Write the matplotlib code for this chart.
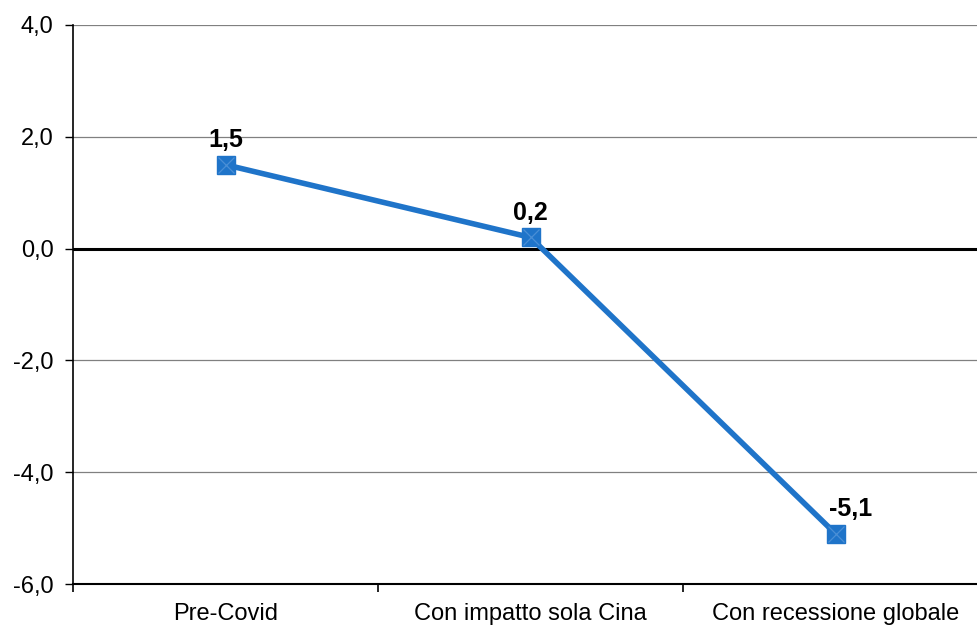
import numpy as np
import matplotlib.pyplot as plt

categories = ['Pre-Covid', 'Con impatto sola Cina', 'Con recessione globale']
values = [1.5, 0.2, -5.1]
value_labels = ['1,5', '0,2', '-5,1']
y_ticks = [-6, -4, -2, 0, 2, 4]
y_tick_labels = ['-6,0', '-4,0', '-2,0', '0,0', '2,0', '4,0']

plt.rcParams['font.family'] = ['Liberation Sans Narrow', 'Liberation Sans', 'DejaVu Sans']

blue = '#1f74c9'

fig = plt.figure(figsize=(9.78, 6.3), dpi=100)
# plot area runs a little past the right edge of the figure
ax = fig.add_axes([73 / 978, 1 - 584 / 630, 915 / 978, (584 - 25) / 630])

x = np.arange(len(categories))
ax.set_xlim(-0.5, len(categories) - 0.5)
ax.set_ylim(-6, 4)

# grid and zero line
for t in y_ticks[1:]:
    ax.axhline(t, color='#808080', lw=0.9, zorder=1)
ax.axhline(0, color='black', lw=2.2, zorder=2)

ax.plot(x, values, color=blue, lw=4, marker='s', markersize=13,
        markerfacecolor=blue, markeredgecolor=blue, zorder=3)
ax.plot(x, values, ls='none', marker='x', markersize=11,
        markeredgecolor='#4a8fd6', markeredgewidth=0.9, zorder=4)

# last label sits a bit to the right so it clears the line
label_dx = [0, 0, 11]
for xi, v, lab, dx in zip(x, values, value_labels, label_dx):
    ax.annotate(lab, (xi, v), xytext=(dx, 9), textcoords='offset points',
                ha='center', va='bottom', fontsize=18, fontweight='bold')

ax.set_yticks(y_ticks)
ax.set_yticklabels(y_tick_labels, fontsize=17)
ax.set_xticks(x)
ax.set_xticklabels(categories, fontsize=17)
ax.set_xticks(np.arange(len(categories) + 1) - 0.5, minor=True)
ax.tick_params(axis='x', which='major', length=0, pad=14)
ax.tick_params(axis='x', which='minor', length=6, width=1.2, direction='out')
ax.tick_params(axis='y', length=6, width=1, pad=8)

for s in ['top', 'right']:
    ax.spines[s].set_visible(False)
ax.spines['left'].set_linewidth(1.2)
ax.spines['bottom'].set_linewidth(1.5)

fig.savefig('out.png', dpi=100)
